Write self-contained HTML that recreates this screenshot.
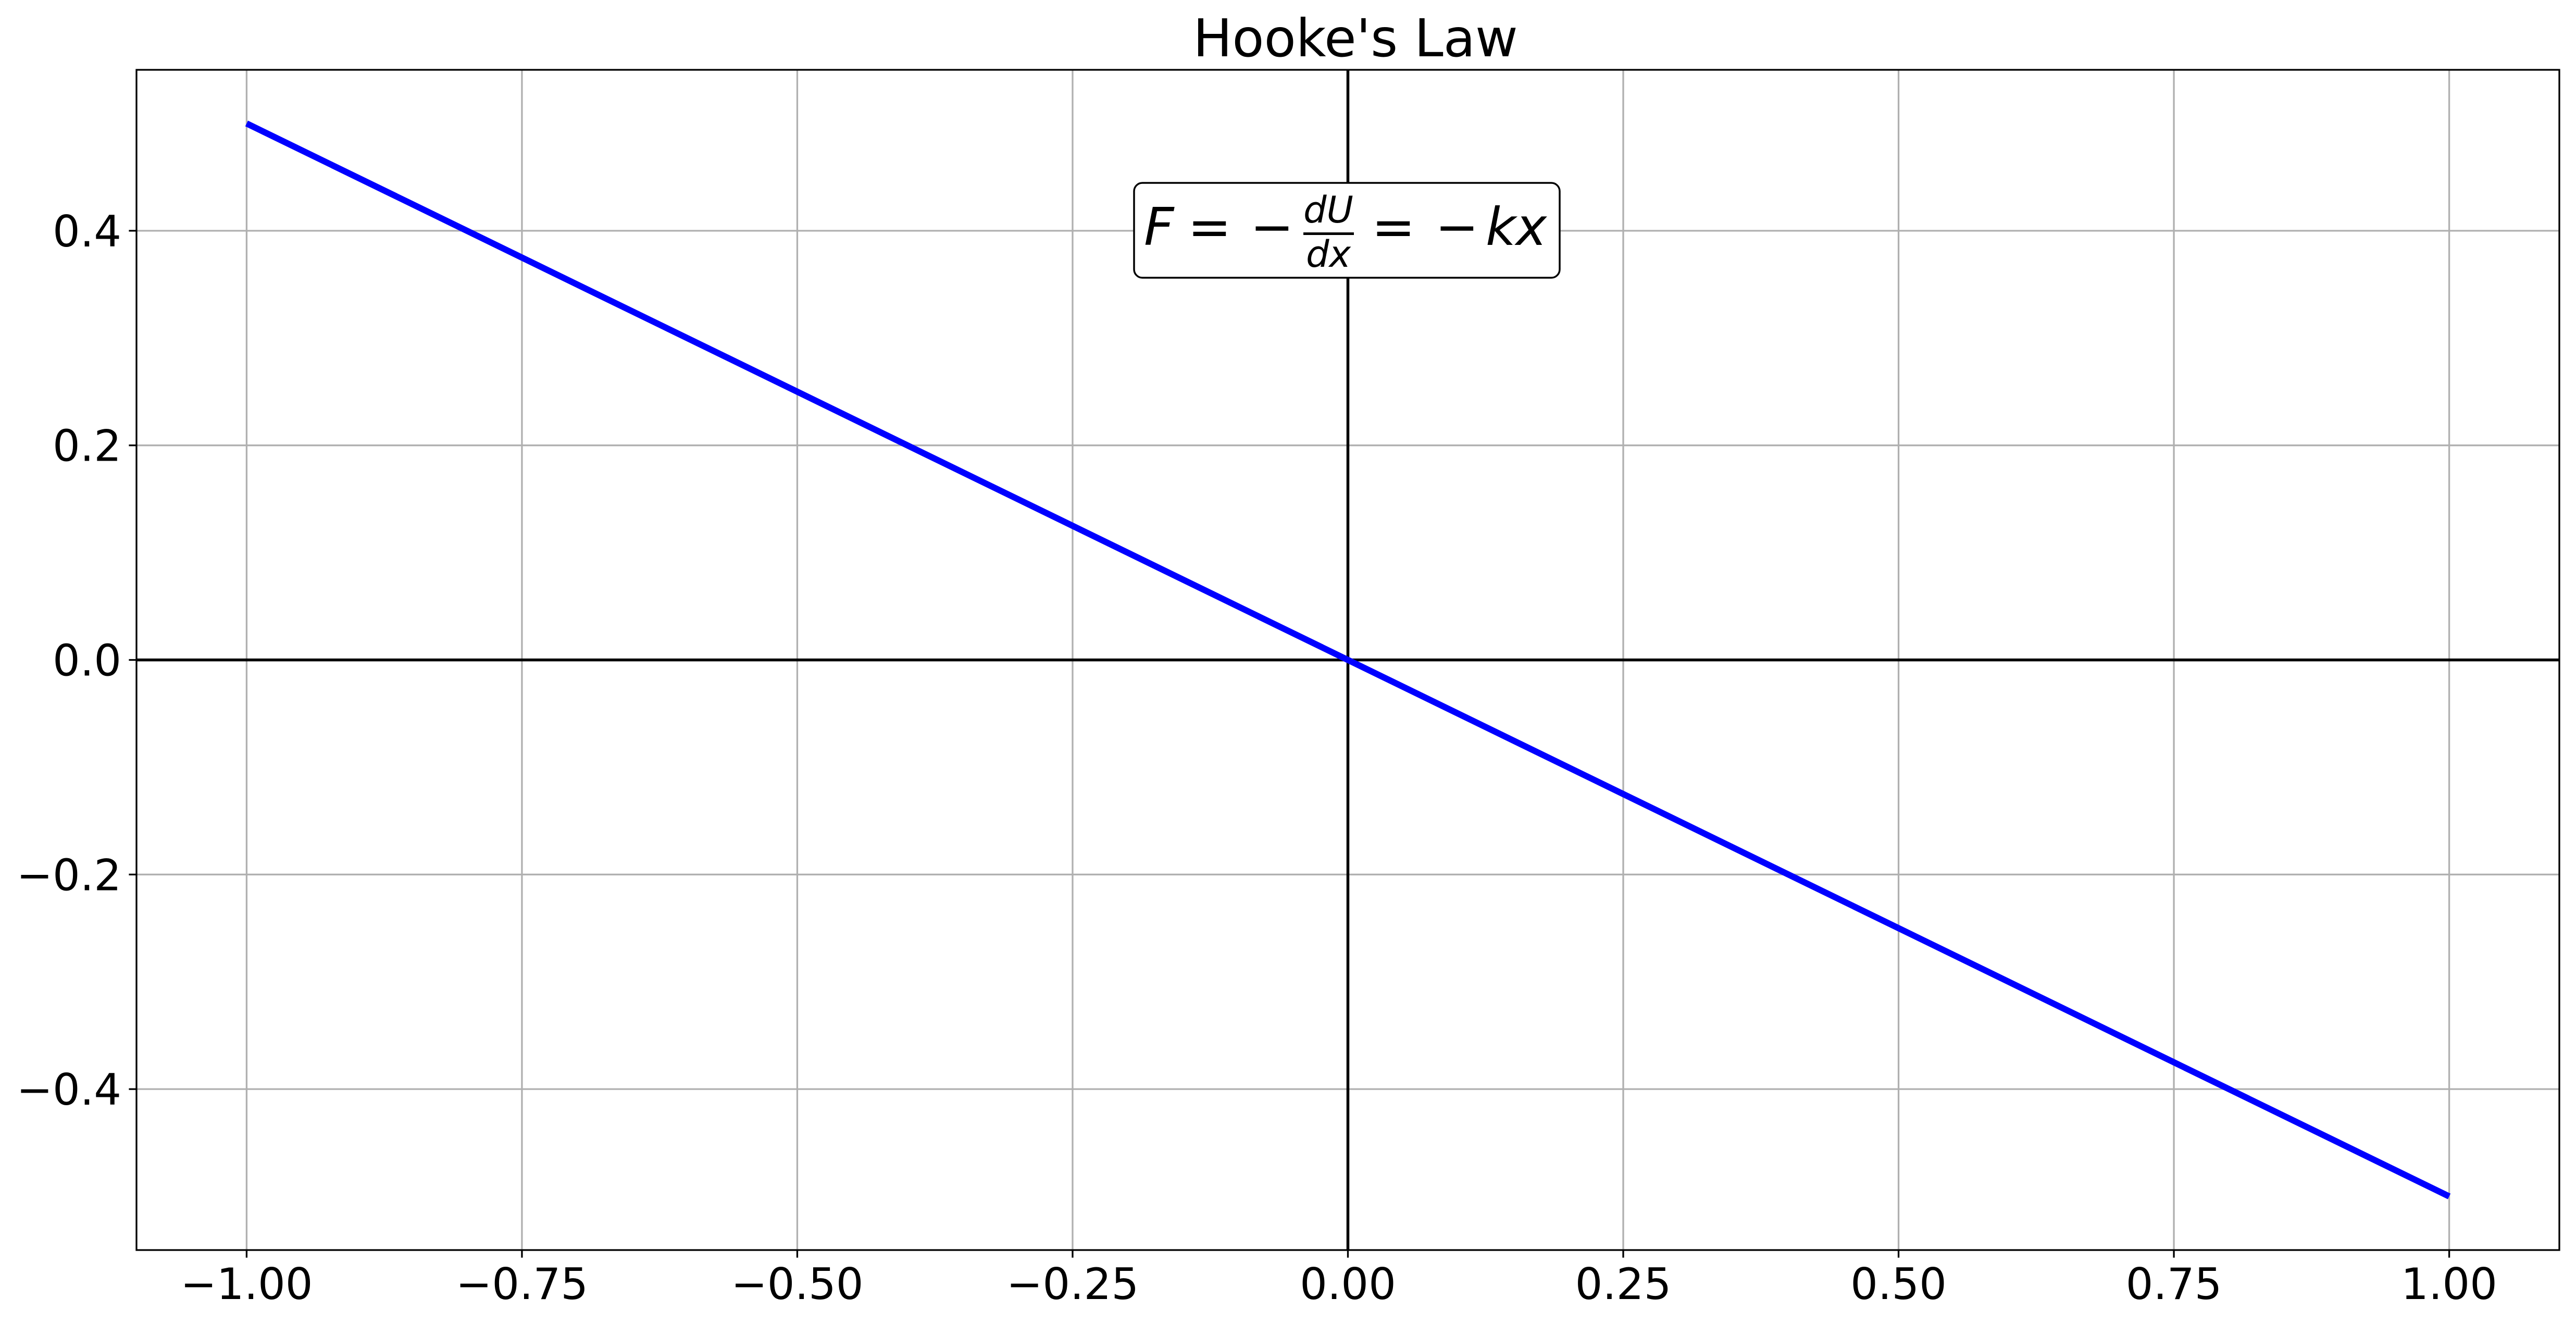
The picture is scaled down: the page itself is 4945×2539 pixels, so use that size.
<!DOCTYPE html>
<html><head><meta charset="utf-8"><style>
html,body{margin:0;padding:0;background:#fff;}
svg{display:block;}
text{font-family:"DejaVu Sans","Liberation Sans",sans-serif;}
</style></head>
<body>
<svg id="chart" width="4945" height="2539" viewBox="0 0 4945 2539" xmlns="http://www.w3.org/2000/svg">
<rect x="0" y="0" width="4945" height="2539" fill="#fff"/>
<text x="2602" y="108" font-size="100" text-anchor="middle" fill="#000">Hooke's Law</text>
<g id="grid"></g>
<g id="axlines"></g>
<g id="series"></g>
<g>
<rect x="2177" y="351" width="817" height="182" rx="16" ry="16" fill="#fff" stroke="#000" stroke-width="3.5"/>
<text x="2196" y="470" font-size="100" font-style="italic" fill="#000">F</text>
<text x="2280" y="470" font-size="100" fill="#000">=</text>
<text x="2400" y="470" font-size="100" fill="#000">−</text>
<text x="2550" y="427" font-size="70" font-style="italic" text-anchor="middle" fill="#000">dU</text>
<rect x="2502" y="446" width="97" height="5" fill="#000"/>
<text x="2550" y="512" font-size="70" font-style="italic" text-anchor="middle" fill="#000">dx</text>
<text x="2633" y="470" font-size="100" fill="#000">=</text>
<text x="2755" y="470" font-size="100" fill="#000">−</text>
<text x="2852" y="470" font-size="100" font-style="italic" fill="#000">kx</text>
</g>
<rect x="262" y="134" width="4651" height="2265" fill="none" stroke="#000" stroke-width="3.3"/>
<g id="ticks"></g>
</svg>
<script>
const xTicks = [-1.0, -0.75, -0.5, -0.25, 0.0, 0.25, 0.5, 0.75, 1.0];
const xTickLabels = ["−1.00","−0.75","−0.50","−0.25","0.00","0.25","0.50","0.75","1.00"];
const yTicks = [-0.4, -0.2, 0.0, 0.2, 0.4];
const yTickLabels = ["−0.4","−0.2","0.0","0.2","0.4"];
const xValues = [-1.0, 1.0];
const forceValues = [0.5, -0.5];

const L=262, R=4913, T=134, B=2399;
const xMin=-1.1, xMax=1.1, yMin=-0.55, yMax=0.55;
const X = v => L + (v - xMin) / (xMax - xMin) * (R - L);
const Y = v => B - (v - yMin) / (yMax - yMin) * (B - T);
const NS = "http://www.w3.org/2000/svg";
function mk(tag, attrs, parent){const e=document.createElementNS(NS,tag);for(const k in attrs)e.setAttribute(k,attrs[k]);parent.appendChild(e);return e;}
const grid=document.getElementById('grid'), ticks=document.getElementById('ticks');
xTicks.forEach((v,i)=>{
  const g=mk('line',{x1:X(v),x2:X(v),y1:T,y2:B,stroke:'#b0b0b0','stroke-width':3.3},grid);
  
  
  const t=mk('line',{x1:X(v),x2:X(v),y1:B,y2:B+14.6,stroke:'#000','stroke-width':3.3},ticks);
  
  
  const lb=mk('text',{x:X(v),y:2493,'font-size':83,'text-anchor':'middle',fill:'#000'},ticks);
  lb.textContent=xTickLabels[i];
  
  
});
yTicks.forEach((v,i)=>{
  const g=mk('line',{x1:L,x2:R,y1:Y(v),y2:Y(v),stroke:'#b0b0b0','stroke-width':3.3},grid);
  
  
  const t=mk('line',{x1:L-14.6,x2:L,y1:Y(v),y2:Y(v),stroke:'#000','stroke-width':3.3},ticks);
  
  
  const lb=mk('text',{x:233,y:Y(v)+30,'font-size':83,'text-anchor':'end',fill:'#000'},ticks);
  lb.textContent=yTickLabels[i];
  
  
});
const ax=document.getElementById('axlines');
const h=mk('line',{x1:L,x2:R,y1:Y(0),y2:Y(0),stroke:'#000','stroke-width':5.5},ax);


const v=mk('line',{x1:X(0),x2:X(0),y1:T,y2:B,stroke:'#000','stroke-width':5.5},ax);


const pts=xValues.map((x,i)=>X(x)+','+Y(forceValues[i])).join(' ');
const pl=mk('polyline',{points:pts,fill:'none',stroke:'#0000ff','stroke-width':12},document.getElementById('series'));


</script>
</body></html>
